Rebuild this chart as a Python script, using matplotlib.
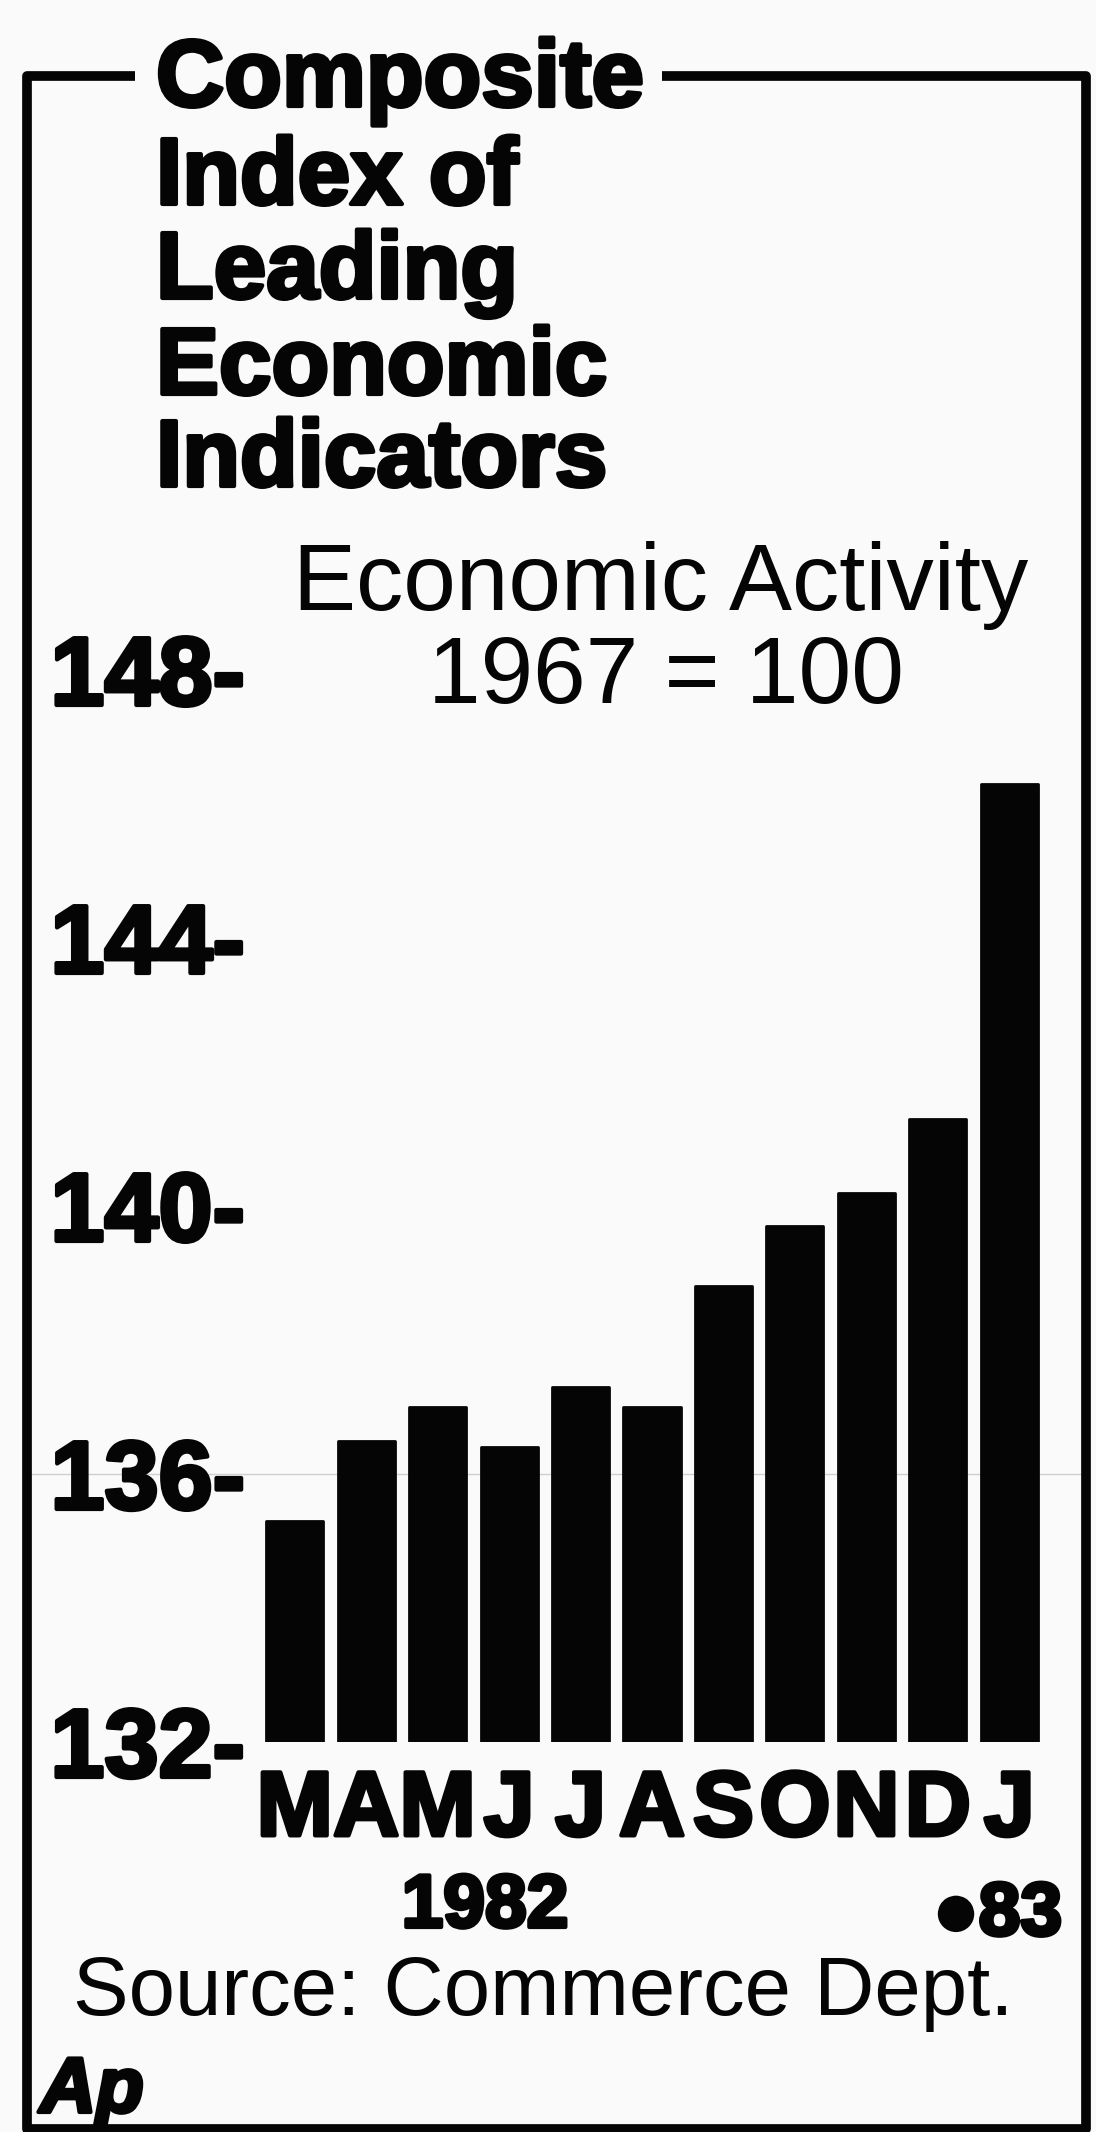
import matplotlib
matplotlib.use('Agg')
import matplotlib.pyplot as plt
import matplotlib.patheffects as pe
from matplotlib.lines import Line2D

# ---- data ----
months = ['M', 'A', 'M', 'J', 'J', 'A', 'S', 'O', 'N', 'D', 'J']
index_values = [135.3, 136.5, 137.0, 136.4, 137.3, 137.0, 138.8, 139.7, 140.2, 141.3, 146.3]
y_ticks = [132, 136, 140, 144, 148]
y_tick_labels = ['132-', '136-', '140-', '144-', '148-']
title_lines = ['Composite', 'Index of', 'Leading', 'Economic', 'Indicators']
subtitle = 'Economic Activity'
base_label = '1967 = 100'
year_1982 = '1982'
year_1983 = '\u25cf83'
source = 'Source: Commerce Dept.'
credit = 'Ap'
base = 132

W, H = 1096, 2132
BG = '#fafafa'
INK = '#050505'
FONT = ['Liberation Sans', 'DejaVu Sans']
plt.rcParams['font.family'] = FONT

fig = plt.figure(figsize=(W / 100, H / 100), dpi=100, facecolor=BG)


def fx(x):
    return x / W


def fy(y):
    return 1 - y / H


heavy = [pe.withStroke(linewidth=3, foreground=INK)]

ax = fig.add_axes([fx(259), fy(1742), (1045 - 259) / W, (1742 - 670) / H])
ax.set_facecolor('none')
xs = list(range(len(months)))
bars = ax.bar(xs, [v - base for v in index_values], bottom=base, width=0.8,
              color=INK, edgecolor=INK, linewidth=2, joinstyle='round', zorder=3)
ax.set_xlim(-0.5, len(months) - 0.5)
ax.set_ylim(base, 148)
for s in ax.spines.values():
    s.set_visible(False)

ax.set_yticks(y_ticks, y_tick_labels)
ax.set_xticks(xs, months)
ax.tick_params(axis='y', length=0, pad=10, labelsize=70, labelcolor=INK)
ax.tick_params(axis='x', length=0, pad=19, labelsize=66, labelcolor=INK)
for lab in ax.get_yticklabels() + ax.get_xticklabels():
    lab.set_fontweight('bold')
    lab.set_path_effects(heavy)

# faint scan line at 136 level across the frame
ax.axhline(136, xmin=(27 - 259) / 786, xmax=(1086 - 259) / 786,
           color='#cfcfcf', lw=1, clip_on=False, zorder=1)

# ---- frame ----
fx_pts = [135, 27, 27, 1086, 1086, 662]
fy_pts = [76, 76, 2129, 2129, 76, 76]
frame = Line2D([fx(v) for v in fx_pts], [fy(v) for v in fy_pts],
               transform=fig.transFigure, color=INK, lw=7,
               solid_joinstyle='round', solid_capstyle='butt')
fig.add_artist(frame)

# ---- title ----
title_baselines = [106, 204, 298, 394, 486]
for line, yb in zip(title_lines, title_baselines):
    fig.text(fx(156), fy(yb), line, ha='left', va='baseline', fontsize=68,
             fontweight='bold', color=INK, path_effects=heavy)

fig.text(fx(661), fy(610), subtitle, ha='center', va='baseline', fontsize=68,
         color=INK)
fig.text(fx(666), fy(703), base_label, ha='center', va='baseline', fontsize=68,
         color=INK)

fig.text(fx(485), fy(1927), year_1982, ha='center', va='baseline', fontsize=54,
         fontweight='bold', color=INK, path_effects=heavy)
fig.text(fx(1062), fy(1935), year_1983, ha='right', va='baseline', fontsize=54,
         fontweight='bold', color=INK, path_effects=heavy)

fig.text(fx(73), fy(2015), source, ha='left', va='baseline', fontsize=60,
         color=INK)
fig.text(fx(40), fy(2112), credit, ha='left', va='baseline', fontsize=56,
         fontweight='bold', fontstyle='italic', color=INK, path_effects=heavy)

fig.savefig('out.png', dpi=100, facecolor=BG)
